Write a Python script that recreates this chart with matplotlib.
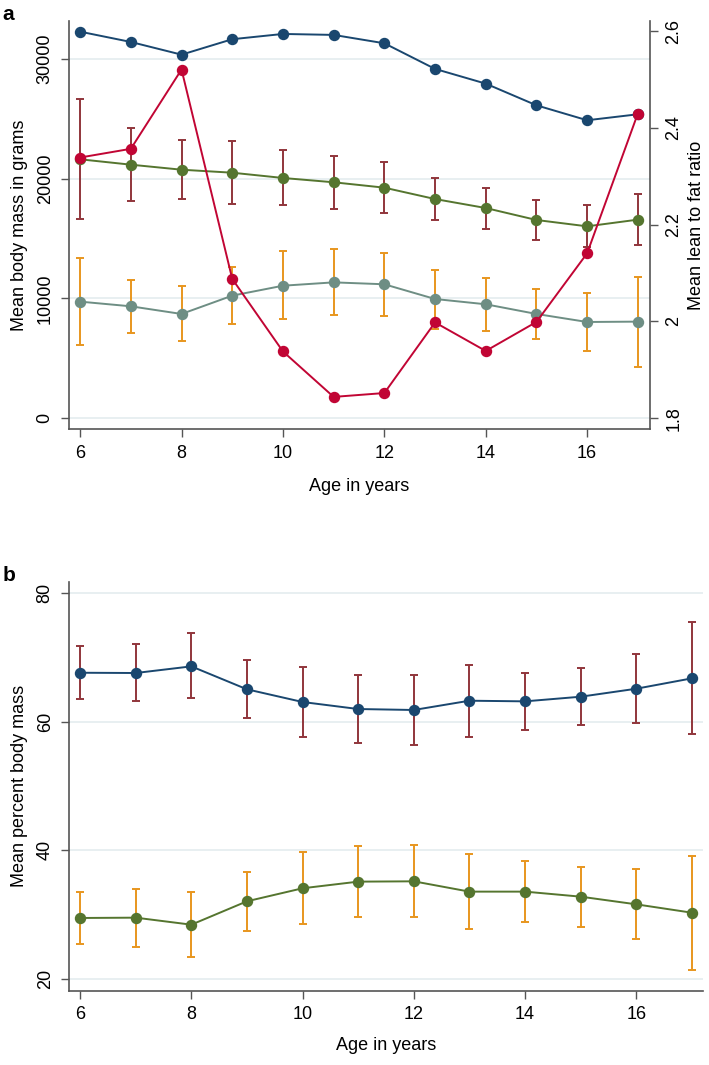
import matplotlib
matplotlib.use("Agg")
import matplotlib.pyplot as plt
import numpy as np

plt.rcParams['font.family'] = ['Liberation Sans', 'DejaVu Sans']

ages = [6, 7, 8, 9, 10, 11, 12, 13, 14, 15, 16, 17]

# Panel a (grams, left axis)
total_mass = [32270, 31410, 30350, 31640, 32080, 32000, 31300, 29160, 27930, 26120, 24870, 25370]
lean_mass = [21610, 21160, 20740, 20490, 20050, 19690, 19240, 18290, 17540, 16540, 16010, 16570]
lean_lo = [16650, 18100, 18270, 17900, 17770, 17490, 17100, 16570, 15790, 14900, 14290, 14480]
lean_hi = [26620, 24250, 23250, 23110, 22390, 21910, 21360, 20020, 19240, 18240, 17820, 18710]
fat_mass = [9720, 9330, 8690, 10220, 11050, 11330, 11170, 9940, 9500, 8690, 8020, 8050]
fat_lo = [6070, 7130, 6430, 7850, 8250, 8600, 8550, 7410, 7270, 6570, 5600, 4260]
fat_hi = [13390, 11530, 11030, 12610, 13980, 14120, 13760, 12340, 11700, 10750, 10420, 11800]
# Panel a (right axis)
ratio = [2.339, 2.357, 2.521, 2.088, 1.938, 1.844, 1.852, 1.998, 1.939, 1.999, 2.141, 2.430]

# Panel b (percent)
lean_pct = [67.57, 67.53, 68.56, 65.00, 63.03, 61.94, 61.79, 63.23, 63.13, 63.85, 65.09, 66.70]
lean_pct_lo = [63.44, 63.13, 63.70, 60.59, 57.64, 56.66, 56.35, 57.60, 58.73, 59.41, 59.72, 58.06]
lean_pct_hi = [71.76, 71.97, 73.68, 69.55, 68.41, 67.27, 67.21, 68.77, 67.53, 68.25, 70.43, 75.39]
fat_pct = [29.51, 29.56, 28.47, 32.10, 34.12, 35.15, 35.20, 33.60, 33.60, 32.82, 31.63, 30.33]
fat_pct_lo = [25.48, 25.06, 23.41, 27.54, 28.58, 29.62, 29.62, 27.80, 28.89, 28.16, 26.20, 21.49]
fat_pct_hi = [33.50, 34.06, 33.60, 36.65, 39.80, 40.68, 40.79, 39.39, 38.31, 37.47, 37.16, 39.18]

x_ticks = [6, 8, 10, 12, 14, 16]
a_left_ticks = [0, 10000, 20000, 30000]
a_right_ticks = [1.8, 2.0, 2.2, 2.4, 2.6]
a_right_labels = ['1.8', '2', '2.2', '2.4', '2.6']
b_ticks = [20, 40, 60, 80]

NAVY = '#1a476f'
MAROON = '#90353b'
GREEN = '#55752f'
ORANGE = '#e8961e'
TEAL = '#6e8e84'
CRAN = '#c10534'
GRID = '#e8eff1'
SPINE = '#555555'

FS = 13
LW = 1.4
MS = 7.2

fig = plt.figure(figsize=(7.09, 10.65), dpi=100)
ax = fig.add_axes([0.0973, 0.5969, 0.9168 - 0.0973, 0.9806 - 0.5969])
axb = fig.add_axes([0.0973, 0.0698, 0.9915 - 0.0973, 0.4538 - 0.0698])


def errbars(a, x, lo, hi, color):
    lo = np.asarray(lo, float)
    hi = np.asarray(hi, float)
    a.errorbar(x, (lo + hi) / 2, yerr=(hi - lo) / 2, fmt='none', ecolor=color,
               elinewidth=1.4, capsize=3.2, capthick=1.4, zorder=2)


def style(a, sides):
    for s in ['top', 'right', 'left', 'bottom']:
        if s in sides:
            a.spines[s].set_color(SPINE)
            a.spines[s].set_linewidth(1.2)
        else:
            a.spines[s].set_visible(False)
    a.tick_params(axis='both', direction='out', length=6, width=1.0, color=SPINE,
                  labelsize=FS, pad=5)


# ---- Panel a ----
errbars(ax, ages, lean_lo, lean_hi, MAROON)
errbars(ax, ages, fat_lo, fat_hi, ORANGE)
ax.plot(ages, total_mass, '-o', color=NAVY, lw=LW, ms=MS, zorder=3)
ax.plot(ages, lean_mass, '-o', color=GREEN, lw=LW, ms=MS, zorder=3)
ax.plot(ages, fat_mass, '-o', color=TEAL, lw=LW, ms=MS, zorder=3)
ax.set_xlim(5.78, 17.24)
ax.set_ylim(-944, 33190)
ax.set_xticks(x_ticks)
ax.set_yticks(a_left_ticks)
ax.yaxis.grid(True, color=GRID, lw=1.4)
ax.set_axisbelow(True)
style(ax, ['left', 'bottom'])
ax.set_xlabel('Age in years', fontsize=FS, labelpad=12)
ax.set_ylabel('Mean body mass in grams', fontsize=FS, labelpad=6)
for t in ax.get_yticklabels():
    t.set_rotation(90)
    t.set_va('center')

ax2 = ax.twinx()
ax2.plot(ages, ratio, '-o', color=CRAN, lw=LW, ms=MS, zorder=4)
ax2.set_ylim(1.777, 2.622)
ax2.set_yticks(a_right_ticks)
ax2.set_yticklabels(a_right_labels)
style(ax2, ['right'])
ax2.set_ylabel('Mean lean to fat ratio', fontsize=FS, labelpad=4)
for t in ax2.get_yticklabels():
    t.set_rotation(90)
    t.set_va('center')

# ---- Panel b ----
errbars(axb, ages, lean_pct_lo, lean_pct_hi, MAROON)
errbars(axb, ages, fat_pct_lo, fat_pct_hi, ORANGE)
axb.plot(ages, lean_pct, '-o', color=NAVY, lw=LW, ms=MS, zorder=3)
axb.plot(ages, fat_pct, '-o', color=GREEN, lw=LW, ms=MS, zorder=3)
axb.set_xlim(5.80, 17.2)
axb.set_ylim(18.23, 81.7)
axb.set_xticks(x_ticks)
axb.set_yticks(b_ticks)
axb.yaxis.grid(True, color=GRID, lw=1.4)
axb.set_axisbelow(True)
style(axb, ['left', 'bottom'])
axb.set_xlabel('Age in years', fontsize=FS, labelpad=10)
axb.set_ylabel('Mean percent body mass', fontsize=FS, labelpad=6)
for t in axb.get_yticklabels():
    t.set_rotation(90)
    t.set_va('center')

fig.text(0.003, 0.995, 'a', fontsize=15, fontweight='bold', va='top', ha='left')
fig.text(0.003, 0.469, 'b', fontsize=15, fontweight='bold', va='top', ha='left')

fig.savefig('out.png', dpi=100)
